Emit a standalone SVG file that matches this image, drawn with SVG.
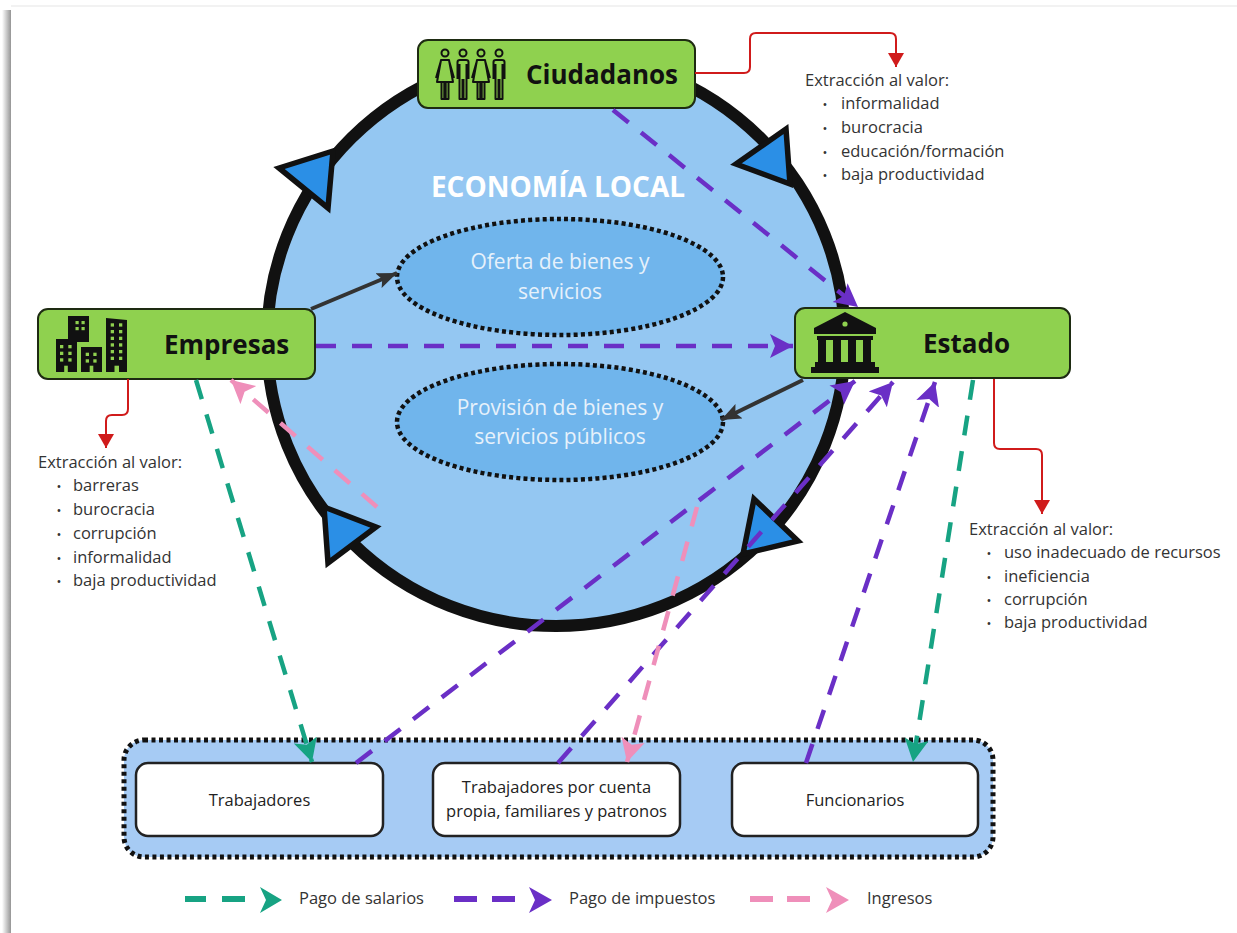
<svg xmlns="http://www.w3.org/2000/svg" width="1237" height="933" viewBox="0 0 1237 933">
<style>
.f{font-family:'Open Sans','Liberation Sans',sans-serif}
.box{fill:#8fd14f;stroke:#1e2b12;stroke-width:2}
.tb{font-weight:700;font-size:26px;fill:#111}
.tl{font-size:16.5px;fill:#333}
.bu{font-size:13px;fill:#333;text-anchor:middle}
.te{font-size:21px;fill:#e6f1fb;text-anchor:middle}
.tw{font-size:16.5px;fill:#222;text-anchor:middle}
.dp{stroke:#6a2fc6;stroke-width:4.5;stroke-dasharray:20 16;fill:none}
.dt{stroke:#17a383;stroke-width:4.5;stroke-dasharray:20 16;fill:none}
.dk{stroke:#ef8fba;stroke-width:4.5;stroke-dasharray:20 16;fill:none}
.red{stroke:#d01b1b;stroke-width:2;fill:none}
.gray{stroke:#333;stroke-width:4;fill:none}
.ell{fill:#70b5ec;stroke:#111;stroke-width:4.5;stroke-dasharray:4 3.2}
.tri{fill:#2b8fe6;stroke:#111;stroke-width:5.5;stroke-linejoin:miter}
.inner{fill:#fff;stroke:#222;stroke-width:2.5}
.win{fill:#8fd14f}
.ppl{fill:none;stroke:#111;stroke-width:2;stroke-linejoin:round}
</style>
<defs>
<linearGradient id="shL" x1="0" x2="1" y1="0" y2="0"><stop offset="0" stop-color="#ffffff"/><stop offset="1" stop-color="#959595"/></linearGradient>
<marker id="mP" markerUnits="userSpaceOnUse" markerWidth="26" markerHeight="26" refX="23" refY="12" orient="auto"><path d="M0,0 L23,12 L0,24 L5,12 Z" fill="#6a2fc6"/></marker>
<marker id="mT" markerUnits="userSpaceOnUse" markerWidth="26" markerHeight="26" refX="23" refY="12" orient="auto"><path d="M0,0 L23,12 L0,24 L5,12 Z" fill="#17a383"/></marker>
<marker id="mK" markerUnits="userSpaceOnUse" markerWidth="26" markerHeight="26" refX="23" refY="12" orient="auto"><path d="M0,0 L23,12 L0,24 L5,12 Z" fill="#ef8fba"/></marker>
<marker id="mR" markerUnits="userSpaceOnUse" markerWidth="16" markerHeight="16" refX="14" refY="8" orient="auto"><path d="M0,0 L14,8 L0,16 Z" fill="#d01b1b"/></marker>
<marker id="mG" markerUnits="userSpaceOnUse" markerWidth="22" markerHeight="18" refX="20" refY="8" orient="auto"><path d="M0,0 L20,8 L0,16 L4,8 Z" fill="#333"/></marker>
</defs>
<rect width="1237" height="933" fill="#fff"/>
<rect x="2" y="10" width="9" height="923" fill="url(#shL)"/>
<rect x="11" y="5" width="1226" height="2" fill="#f2f2f2"/>

<g id="economia-local">
<ellipse cx="556" cy="340" rx="289" ry="286" fill="#94c7f2" stroke="#111" stroke-width="12"/>
<polygon class="tri" points="279,168 333,151 328,208"/>
<polygon class="tri" points="736,164 786,129 790,184"/>
<polygon class="tri" points="754,499 743,554 798,541"/>
<polygon class="tri" points="324,507 328,563 376,527"/>
<text class="f" x="558" y="197" text-anchor="middle" font-weight="700" font-size="28" fill="#fff">ECONOMÍA LOCAL</text>
</g>

<g id="oferta">
<ellipse class="ell" cx="560" cy="277" rx="163" ry="58"/>
<text class="f te" x="560" y="269">Oferta de bienes y</text>
<text class="f te" x="560" y="299">servicios</text>
</g>
<g id="provision">
<ellipse class="ell" cx="560" cy="422" rx="163" ry="58"/>
<text class="f te" x="560" y="415">Provisión de bienes y</text>
<text class="f te" x="560" y="444">servicios públicos</text>
</g>

<g id="ciudadanos">
<rect class="box" x="418" y="40" width="277" height="68" rx="10"/>
<g class="ppl">
<circle cx="445" cy="53" r="3.5"/>
<path d="M441,60 H449 L453,82 H437 Z M441,60.5 L436,78 M449,60.5 L454,78 M441.5,82 V99 H444.3 V82 M445.7,82 V99 H448.5 V82"/>
<circle cx="463" cy="53" r="3.5"/>
<path d="M457.5,79 V62 Q457.5,60 460,60 H466 Q468.5,60 468.5,62 V79 M459.5,64 V99 H462.5 V79 M463.5,79 V99 H466.5 V64"/>
<circle cx="481" cy="53" r="3.5"/>
<path d="M477,60 H485 L489,82 H473 Z M477,60.5 L472,78 M485,60.5 L490,78 M477.5,82 V99 H480.3 V82 M481.7,82 V99 H484.5 V82"/>
<circle cx="499" cy="53" r="3.5"/>
<path d="M493.5,79 V62 Q493.5,60 496,60 H502 Q504.5,60 504.5,62 V79 M495.5,64 V99 H498.5 V79 M499.5,79 V99 H502.5 V64"/>
</g>
<text class="f tb" x="526" y="84">Ciudadanos</text>
</g>

<g id="empresas">
<rect class="box" x="38" y="309" width="277" height="70" rx="10"/>
<rect x="68" y="316" width="21" height="26" fill="#111"/>
<rect x="56" y="339" width="21" height="33" fill="#111"/>
<rect x="81" y="347" width="21" height="25" fill="#111"/>
<path d="M106,318 L127,320 V372 H106 Z" fill="#111"/>
<g class="win">
<rect x="75.5" y="321" width="3.2" height="3.2"/><rect x="81.5" y="321" width="3.2" height="3.2"/>
<rect x="75.5" y="327" width="3.2" height="3.2"/><rect x="81.5" y="327" width="3.2" height="3.2"/>
<rect x="60" y="345" width="3.3" height="3.3"/><rect x="68.3" y="345" width="3.3" height="3.3"/>
<rect x="60" y="351.7" width="3.3" height="3.3"/><rect x="68.3" y="351.7" width="3.3" height="3.3"/>
<rect x="60" y="358.3" width="3.3" height="3.3"/><rect x="68.3" y="358.3" width="3.3" height="3.3"/>
<rect x="64.2" y="365.7" width="3.6" height="6.3"/>
<rect x="85.7" y="352.7" width="3.3" height="3.3"/><rect x="93.3" y="352.7" width="3.3" height="3.3"/>
<rect x="85.7" y="359.3" width="3.3" height="3.3"/><rect x="93.3" y="359.3" width="3.3" height="3.3"/>
<rect x="89.7" y="365.7" width="3.6" height="6.3"/>
<rect x="110.7" y="323.3" width="3.3" height="3.3"/><rect x="119" y="323.3" width="3.3" height="3.3"/>
<rect x="110.7" y="330" width="3.3" height="3.3"/><rect x="119" y="330" width="3.3" height="3.3"/>
<rect x="110.7" y="336.7" width="3.3" height="3.3"/><rect x="119" y="336.7" width="3.3" height="3.3"/>
<rect x="110.7" y="343.3" width="3.3" height="3.3"/><rect x="119" y="343.3" width="3.3" height="3.3"/>
<rect x="110.7" y="350" width="3.3" height="3.3"/><rect x="119" y="350" width="3.3" height="3.3"/>
<rect x="110.7" y="356.7" width="3.3" height="3.3"/><rect x="119" y="356.7" width="3.3" height="3.3"/>
<rect x="114.5" y="365.7" width="4.5" height="6.3"/>
</g>
<text class="f tb" x="164" y="354">Empresas</text>
</g>

<g id="estado">
<rect class="box" x="795" y="308" width="275" height="70" rx="10"/>
<g fill="#111">
<polygon points="845,312 876,328 876,334 814,334 814,328"/>
<rect x="817" y="336" width="56" height="4"/>
<rect x="818" y="340" width="8" height="22"/>
<rect x="833" y="340" width="8" height="22"/>
<rect x="848" y="340" width="8" height="22"/>
<rect x="863" y="340" width="8" height="22"/>
<rect x="815" y="362" width="60" height="5"/>
<rect x="811" y="367" width="68" height="6"/>
</g>
<circle cx="845" cy="324" r="2.6" fill="#8fd14f"/>
<text class="f tb" x="923" y="353">Estado</text>
</g>

<g id="extraccion-ciudadanos" class="f">
<text class="tl" x="805" y="86">Extracción al valor:</text>
<text class="bu" x="825" y="109">•</text><text class="tl" x="841" y="109">informalidad</text>
<text class="bu" x="825" y="133">•</text><text class="tl" x="841" y="133">burocracia</text>
<text class="bu" x="825" y="157">•</text><text class="tl" x="841" y="157">educación/formación</text>
<text class="bu" x="825" y="180">•</text><text class="tl" x="841" y="180">baja productividad</text>
</g>
<g id="extraccion-empresas" class="f">
<text class="tl" x="38" y="468">Extracción al valor:</text>
<text class="bu" x="59" y="491">•</text><text class="tl" x="73" y="491">barreras</text>
<text class="bu" x="59" y="515">•</text><text class="tl" x="73" y="515">burocracia</text>
<text class="bu" x="59" y="539">•</text><text class="tl" x="73" y="539">corrupción</text>
<text class="bu" x="59" y="563">•</text><text class="tl" x="73" y="563">informalidad</text>
<text class="bu" x="59" y="586">•</text><text class="tl" x="73" y="586">baja productividad</text>
</g>
<g id="extraccion-estado" class="f">
<text class="tl" x="969" y="535">Extracción al valor:</text>
<text class="bu" x="989" y="558">•</text><text class="tl" x="1004" y="558">uso inadecuado de recursos</text>
<text class="bu" x="989" y="582">•</text><text class="tl" x="1004" y="582">ineficiencia</text>
<text class="bu" x="989" y="605">•</text><text class="tl" x="1004" y="605">corrupción</text>
<text class="bu" x="989" y="628">•</text><text class="tl" x="1004" y="628">baja productividad</text>
</g>

<g id="hogares">
<rect x="124" y="740" width="869" height="117" rx="20" fill="#a6cbf4" stroke="#111" stroke-width="5" stroke-dasharray="4 3.5"/>
<g id="trabajadores">
<rect class="inner" x="136" y="763" width="247" height="73" rx="12"/>
<text class="f tw" x="259.5" y="806">Trabajadores</text>
</g>
<g id="cuenta-propia">
<rect class="inner" x="433" y="763" width="247" height="73" rx="12"/>
<text class="f tw" x="556.5" y="793">Trabajadores por cuenta</text>
<text class="f tw" x="556.5" y="817">propia, familiares y patronos</text>
</g>
<g id="funcionarios">
<rect class="inner" x="732" y="763" width="246" height="73" rx="12"/>
<text class="f tw" x="855" y="806">Funcionarios</text>
</g>
</g>

<g id="connectors">
<path class="red" d="M695,73 H744 Q750,73 750,67 V39 Q750,33 756,33 H890 Q896,33 896,39 V67" marker-end="url(#mR)"/>
<path class="red" d="M128,379 V409 Q128,415 122,415 H112 Q106,415 106,421 V448" marker-end="url(#mR)"/>
<path class="red" d="M994,379 V443 Q994,449 1000,449 H1036 Q1042,449 1042,455 V514" marker-end="url(#mR)"/>
<line class="gray" x1="311" y1="309" x2="397" y2="273" marker-end="url(#mG)"/>
<line class="gray" x1="803" y1="380" x2="721" y2="420" marker-end="url(#mG)"/>
<line class="dp" x1="613" y1="110" x2="858" y2="307" marker-end="url(#mP)"/>
<line class="dp" x1="316" y1="346" x2="793" y2="346" marker-end="url(#mP)"/>
<line class="dp" x1="356" y1="763" x2="855" y2="381" marker-end="url(#mP)"/>
<line class="dp" x1="558" y1="763" x2="893" y2="382" marker-end="url(#mP)"/>
<line class="dp" x1="806" y1="763" x2="935" y2="382" marker-end="url(#mP)"/>
<line class="dt" x1="196" y1="380" x2="312" y2="762" marker-end="url(#mT)"/>
<line class="dt" x1="973" y1="380" x2="913" y2="762" marker-end="url(#mT)"/>
<line class="dk" x1="377" y1="507" x2="231" y2="380" marker-end="url(#mK)"/>
<line class="dk" x1="697" y1="507" x2="627" y2="762" marker-end="url(#mK)"/>
</g>

<g id="legend">
<path d="M185,899 H206 M222,899 H245" stroke="#17a383" stroke-width="6"/>
<path d="M260,887 L282,900 L260,913 L266,900 Z" fill="#17a383"/>
<text class="f tl" x="299" y="904">Pago de salarios</text>
<path d="M454,899 H477 M492,899 H515" stroke="#6a2fc6" stroke-width="6"/>
<path d="M529,887 L552,900 L529,913 L535,900 Z" fill="#6a2fc6"/>
<text class="f tl" x="569" y="904">Pago de impuestos</text>
<path d="M750,899 H773 M787,899 H810" stroke="#ef8fba" stroke-width="6"/>
<path d="M826,887 L849,900 L826,913 L832,900 Z" fill="#ef8fba"/>
<text class="f tl" x="867" y="904">Ingresos</text>
</g>
</svg>
